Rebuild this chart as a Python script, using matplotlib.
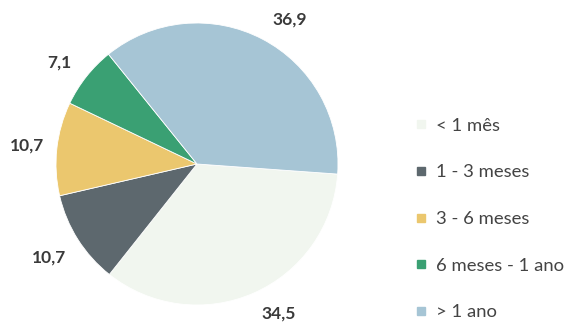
import numpy as np
import matplotlib
matplotlib.use('Agg')
from matplotlib import pyplot as plt
from matplotlib.lines import Line2D

categories = ['< 1 mês', '1 - 3 meses', '3 - 6 meses', '6 meses - 1 ano', '> 1 ano']
values = [34.5, 10.7, 10.7, 7.1, 36.9]
value_labels = ['34,5', '10,7', '10,7', '7,1', '36,9']
colours = ['#f1f6ef', '#5d686e', '#ebc76e', '#3aa073', '#a6c5d5']

plt.rcParams['font.family'] = ['Lato', 'DejaVu Sans']

fig = plt.figure(figsize=(5.68, 3.29), dpi=100)
# pie centre ~ (197, 163) px, radius ~ 141 px
ax = fig.add_axes([56 / 568, 24 / 329, 282 / 568, 282 / 329])

wedges, _ = ax.pie(values, colors=colours, startangle=-4.1, counterclock=False,
                   wedgeprops=dict(edgecolor='white', linewidth=0.6))

# label placement: distance from centre and small angle nudge (degrees)
label_dist = [1.21, 1.24, 1.21, 1.21, 1.22]
label_nudge = [4.8, 0, 0, 2, -5]
for w, lab, d, n in zip(wedges, value_labels, label_dist, label_nudge):
    ang = np.deg2rad((w.theta1 + w.theta2) / 2 + n)
    ax.text(d * np.cos(ang), d * np.sin(ang), lab, ha='center', va='center',
            fontsize=12.5, fontweight='bold', color='#3a3a3a')

ax.set_xlim(-1, 1)
ax.set_ylim(-1, 1)
ax.set_aspect('equal')

handles = [Line2D([], [], marker='s', linestyle='none', markersize=6,
                  markerfacecolor=c, markeredgecolor=c) for c in colours]
leg = fig.legend(handles, categories, loc='upper left', bbox_to_anchor=(0.715, 0.67),
                 frameon=False, fontsize=13.3, labelspacing=1.66, handlelength=0.6,
                 handletextpad=0.5, borderpad=0)
for t in leg.get_texts():
    t.set_color('#444444')

fig.savefig('out.png', dpi=100)
